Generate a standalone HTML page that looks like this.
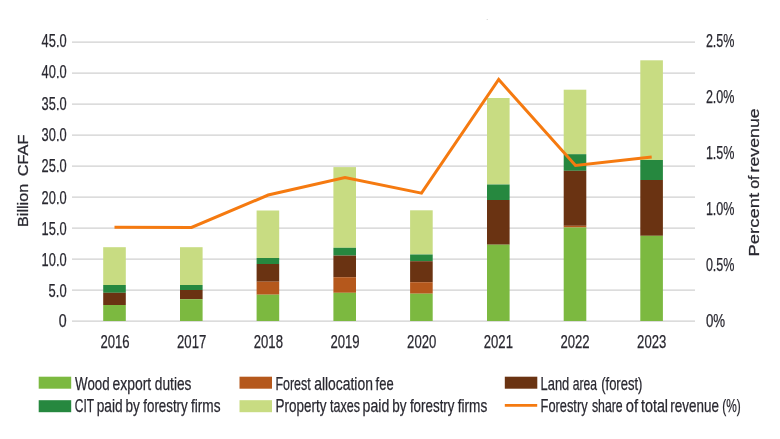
<!DOCTYPE html>
<html lang="en"><head><meta charset="utf-8"><title>Forestry revenue</title>
<style>html,body{margin:0;padding:0;background:#fff;overflow:hidden}svg{display:block}text{font-family:"Liberation Sans",sans-serif;fill:#292830;stroke:#292830;stroke-width:0.25px}</style></head><body>
<svg width="780" height="439" viewBox="0 0 780 439">
<rect width="780" height="439" fill="#ffffff"/>
<rect x="486.7" y="19" width="1.1" height="1" fill="#d6d6d6"/>
<g stroke="#d0d0d0" stroke-width="1.3" shape-rendering="auto">
<line x1="72" y1="42.1" x2="695" y2="42.1"/>
<line x1="72" y1="73.1" x2="695" y2="73.1"/>
<line x1="72" y1="104.1" x2="695" y2="104.1"/>
<line x1="72" y1="135.1" x2="695" y2="135.1"/>
<line x1="72" y1="166.1" x2="695" y2="166.1"/>
<line x1="72" y1="197.1" x2="695" y2="197.1"/>
<line x1="72" y1="228.1" x2="695" y2="228.1"/>
<line x1="72" y1="259.1" x2="695" y2="259.1"/>
<line x1="72" y1="290.1" x2="695" y2="290.1"/>
<line x1="72" y1="321.1" x2="695" y2="321.1"/>
</g>
<g>
<rect x="103.2" y="247.2" width="22.6" height="37.8" fill="#c8dc82"/>
<rect x="103.2" y="285" width="22.6" height="7.8" fill="#26883f"/>
<rect x="103.2" y="292.8" width="22.6" height="12.2" fill="#6a3312"/>
<rect x="103.2" y="305" width="22.6" height="16" fill="#7cb940"/>
<rect x="180" y="247.2" width="22.6" height="37.8" fill="#c8dc82"/>
<rect x="180" y="285" width="22.6" height="5" fill="#26883f"/>
<rect x="180" y="290" width="22.6" height="9.2" fill="#6a3312"/>
<rect x="180" y="299.2" width="22.6" height="21.8" fill="#7cb940"/>
<rect x="256.6" y="210.5" width="22.6" height="47.5" fill="#c8dc82"/>
<rect x="256.6" y="258" width="22.6" height="6" fill="#26883f"/>
<rect x="256.6" y="264" width="22.6" height="17.7" fill="#6a3312"/>
<rect x="256.6" y="281.7" width="22.6" height="13" fill="#b5581c"/>
<rect x="256.6" y="294.7" width="22.6" height="26.3" fill="#7cb940"/>
<rect x="333.4" y="167.1" width="22.6" height="80.7" fill="#c8dc82"/>
<rect x="333.4" y="247.8" width="22.6" height="7.8" fill="#26883f"/>
<rect x="333.4" y="255.6" width="22.6" height="21.6" fill="#6a3312"/>
<rect x="333.4" y="277.2" width="22.6" height="15.6" fill="#b5581c"/>
<rect x="333.4" y="292.8" width="22.6" height="28.2" fill="#7cb940"/>
<rect x="410.1" y="210.3" width="22.6" height="44.2" fill="#c8dc82"/>
<rect x="410.1" y="254.5" width="22.6" height="6.7" fill="#26883f"/>
<rect x="410.1" y="261.2" width="22.6" height="21" fill="#6a3312"/>
<rect x="410.1" y="282.2" width="22.6" height="11.5" fill="#b5581c"/>
<rect x="410.1" y="293.7" width="22.6" height="27.3" fill="#7cb940"/>
<rect x="487" y="98" width="22.6" height="86.5" fill="#c8dc82"/>
<rect x="487" y="184.5" width="22.6" height="15.5" fill="#26883f"/>
<rect x="487" y="200" width="22.6" height="44.7" fill="#6a3312"/>
<rect x="487" y="244.7" width="22.6" height="76.3" fill="#7cb940"/>
<rect x="563.7" y="89.7" width="22.6" height="64.5" fill="#c8dc82"/>
<rect x="563.7" y="154.2" width="22.6" height="16.6" fill="#26883f"/>
<rect x="563.7" y="170.8" width="22.6" height="55" fill="#6a3312"/>
<rect x="563.7" y="225.8" width="22.6" height="1.7" fill="#b5581c"/>
<rect x="563.7" y="227.5" width="22.6" height="93.5" fill="#7cb940"/>
<rect x="640.3" y="60.3" width="22.6" height="99.7" fill="#c8dc82"/>
<rect x="640.3" y="160" width="22.6" height="20" fill="#26883f"/>
<rect x="640.3" y="180" width="22.6" height="55.8" fill="#6a3312"/>
<rect x="640.3" y="235.8" width="22.6" height="85.2" fill="#7cb940"/>
</g>
<polyline fill="none" stroke="#f57a10" stroke-width="3" stroke-linejoin="miter" points="114.5,227.3 191.5,227.5 268.2,195 345,177.5 421.5,193.2 498.7,79.5 575.5,165.5 651.7,157"/>
<text x="41.6" y="47.2" font-size="17.7" text-anchor="start" textLength="25" lengthAdjust="spacingAndGlyphs">45.0</text>
<text x="41.6" y="78.3" font-size="17.7" text-anchor="start" textLength="25" lengthAdjust="spacingAndGlyphs">40.0</text>
<text x="41.6" y="109.9" font-size="17.7" text-anchor="start" textLength="25" lengthAdjust="spacingAndGlyphs">35.0</text>
<text x="41.6" y="141.1" font-size="17.7" text-anchor="start" textLength="25" lengthAdjust="spacingAndGlyphs">30.0</text>
<text x="41.6" y="172.2" font-size="17.7" text-anchor="start" textLength="25" lengthAdjust="spacingAndGlyphs">25.0</text>
<text x="41.6" y="203.8" font-size="17.7" text-anchor="start" textLength="25" lengthAdjust="spacingAndGlyphs">20.0</text>
<text x="41.6" y="234.7" font-size="17.7" text-anchor="start" textLength="25" lengthAdjust="spacingAndGlyphs">15.0</text>
<text x="41.6" y="266" font-size="17.7" text-anchor="start" textLength="25" lengthAdjust="spacingAndGlyphs">10.0</text>
<text x="48.6" y="297.1" font-size="17.7" text-anchor="start" textLength="18" lengthAdjust="spacingAndGlyphs">5.0</text>
<text x="58.7" y="326.5" font-size="17.7" text-anchor="start" textLength="7.9" lengthAdjust="spacingAndGlyphs">0</text>
<text x="705.9" y="47.2" font-size="17.7" text-anchor="start" textLength="28.6" lengthAdjust="spacingAndGlyphs">2.5%</text>
<text x="705.9" y="103" font-size="17.7" text-anchor="start" textLength="28.6" lengthAdjust="spacingAndGlyphs">2.0%</text>
<text x="705.9" y="159" font-size="17.7" text-anchor="start" textLength="28.6" lengthAdjust="spacingAndGlyphs">1.5%</text>
<text x="705.9" y="214.8" font-size="17.7" text-anchor="start" textLength="28.6" lengthAdjust="spacingAndGlyphs">1.0%</text>
<text x="705.9" y="271" font-size="17.7" text-anchor="start" textLength="28.6" lengthAdjust="spacingAndGlyphs">0.5%</text>
<text x="705.9" y="326.8" font-size="17.7" text-anchor="start" textLength="19.2" lengthAdjust="spacingAndGlyphs">0%</text>
<text x="100.4" y="348.2" font-size="17.7" text-anchor="start" textLength="29.2" lengthAdjust="spacingAndGlyphs">2016</text>
<text x="177.07" y="348.2" font-size="17.7" text-anchor="start" textLength="29.2" lengthAdjust="spacingAndGlyphs">2017</text>
<text x="253.74" y="348.2" font-size="17.7" text-anchor="start" textLength="29.2" lengthAdjust="spacingAndGlyphs">2018</text>
<text x="330.41" y="348.2" font-size="17.7" text-anchor="start" textLength="29.2" lengthAdjust="spacingAndGlyphs">2019</text>
<text x="407.08" y="348.2" font-size="17.7" text-anchor="start" textLength="29.2" lengthAdjust="spacingAndGlyphs">2020</text>
<text x="483.75" y="348.2" font-size="17.7" text-anchor="start" textLength="29.2" lengthAdjust="spacingAndGlyphs">2021</text>
<text x="560.42" y="348.2" font-size="17.7" text-anchor="start" textLength="29.2" lengthAdjust="spacingAndGlyphs">2022</text>
<text x="637.09" y="348.2" font-size="17.7" text-anchor="start" textLength="29.2" lengthAdjust="spacingAndGlyphs">2023</text>
<text transform="translate(28.3,225.7) rotate(-90)" y="0" font-size="15" style="stroke-width:0.25px"><tspan x="-1.26" textLength="43.17" lengthAdjust="spacingAndGlyphs">Billion</tspan> <tspan x="49.33" textLength="41.91" lengthAdjust="spacingAndGlyphs">CFAF</tspan></text>
<text transform="translate(758.9,255) rotate(-90)" y="0" font-size="15" style="stroke-width:0.25px"><tspan x="-1.44" textLength="63.58" lengthAdjust="spacingAndGlyphs">Percent</tspan> <tspan x="66.30" textLength="13.24" lengthAdjust="spacingAndGlyphs">of</tspan> <tspan x="82.59" textLength="64.03" lengthAdjust="spacingAndGlyphs">revenue</tspan></text>
<rect x="38.7" y="376.7" width="32.5" height="12" fill="#7cb940"/>
<text y="389.5" font-size="17.7"><tspan x="75.10" textLength="34.45" lengthAdjust="spacingAndGlyphs">Wood</tspan> <tspan x="112.47" textLength="38.69" lengthAdjust="spacingAndGlyphs">export</tspan> <tspan x="154.87" textLength="36.56" lengthAdjust="spacingAndGlyphs">duties</tspan></text>
<rect x="38.7" y="400.2" width="32.5" height="12" fill="#26883f"/>
<text y="412.3" font-size="17.7"><tspan x="74.85" textLength="19.06" lengthAdjust="spacingAndGlyphs">CIT</tspan> <tspan x="96.74" textLength="25.93" lengthAdjust="spacingAndGlyphs">paid</tspan> <tspan x="125.55" textLength="14.35" lengthAdjust="spacingAndGlyphs">by</tspan> <tspan x="143.30" textLength="44.40" lengthAdjust="spacingAndGlyphs">forestry</tspan> <tspan x="191.00" textLength="29.53" lengthAdjust="spacingAndGlyphs">firms</tspan></text>
<rect x="239.5" y="376.7" width="32.5" height="12" fill="#b5581c"/>
<text y="389.5" font-size="17.7"><tspan x="275.43" textLength="35.33" lengthAdjust="spacingAndGlyphs">Forest</tspan> <tspan x="314.17" textLength="58.71" lengthAdjust="spacingAndGlyphs">allocation</tspan> <tspan x="375.60" textLength="18.03" lengthAdjust="spacingAndGlyphs">fee</tspan></text>
<rect x="239.5" y="400.2" width="32.5" height="12" fill="#c8dc82"/>
<text y="412.3" font-size="17.7"><tspan x="275.55" textLength="50.85" lengthAdjust="spacingAndGlyphs">Property</tspan> <tspan x="330.00" textLength="29.99" lengthAdjust="spacingAndGlyphs">taxes</tspan> <tspan x="362.62" textLength="26.67" lengthAdjust="spacingAndGlyphs">paid</tspan> <tspan x="392.16" textLength="14.24" lengthAdjust="spacingAndGlyphs">by</tspan> <tspan x="409.90" textLength="44.60" lengthAdjust="spacingAndGlyphs">forestry</tspan> <tspan x="457.70" textLength="29.53" lengthAdjust="spacingAndGlyphs">firms</tspan></text>
<rect x="504.8" y="376.7" width="32.5" height="12" fill="#6a3312"/>
<text y="389.5" font-size="17.7"><tspan x="540.59" textLength="28.73" lengthAdjust="spacingAndGlyphs">Land</tspan> <tspan x="572.82" textLength="24.30" lengthAdjust="spacingAndGlyphs">area</tspan> <tspan x="601.19" textLength="41.18" lengthAdjust="spacingAndGlyphs">(forest)</tspan></text>
<line x1="504.8" y1="405.4" x2="537.2" y2="405.4" stroke="#f57a10" stroke-width="2.8"/>
<text y="412.3" font-size="17.7"><tspan x="540.60" textLength="47.00" lengthAdjust="spacingAndGlyphs">Forestry</tspan> <tspan x="591.91" textLength="30.79" lengthAdjust="spacingAndGlyphs">share</tspan> <tspan x="625.84" textLength="12.31" lengthAdjust="spacingAndGlyphs">of</tspan> <tspan x="641.00" textLength="27.04" lengthAdjust="spacingAndGlyphs">total</tspan> <tspan x="670.36" textLength="48.48" lengthAdjust="spacingAndGlyphs">revenue</tspan> <tspan x="722.24" textLength="18.47" lengthAdjust="spacingAndGlyphs">(%)</tspan></text>
</svg></body></html>
